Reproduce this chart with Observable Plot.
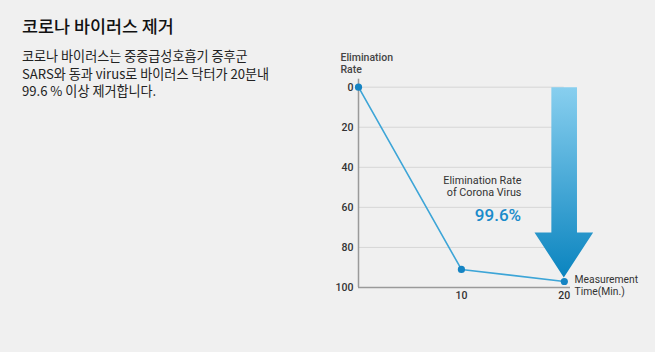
<!DOCTYPE html>
<html><head><meta charset="utf-8">
<script src="https://cdn.jsdelivr.net/npm/d3@7"></script>
<script src="https://cdn.jsdelivr.net/npm/@observablehq/plot@0.6"></script>
<style>
html,body{margin:0;padding:0;background:#f0f0f0;}
#wrap{position:relative;width:655px;height:352px;overflow:hidden;background:#f0f0f0;}
#title{position:absolute;left:22px;top:13px;font:500 17.4px "Noto Sans CJK KR";color:#111;margin:0;white-space:nowrap}
#desc{position:absolute;left:22px;top:47px;font:13.1px/17.5px "Noto Sans CJK KR";color:#222;margin:0;white-space:nowrap}
#chart{position:absolute;left:0;top:0}
</style></head>
<body><div id="wrap">
<div id="title">코로나 바이러스 제거</div>
<div id="desc">코로나 바이러스는 중증급성호흡기 증후군<br>SARS와 동과 virus로 바이러스 닥터가 20분내<br>99.6 % 이상 제거합니다.</div>
<div id="chart"></div>
</div>
<script>
const times = [0, 10, 20];
const rates = [0, 91, 97];
const yTicks = [0, 20, 40, 60, 80, 100];
const xTicks = [10, 20];
const yAxisTitle = "Elimination\nRate";
const xAxisTitle = "Measurement\nTime(Min.)";
const noteTitle = "Elimination Rate\nof Corona Virus";
const noteValue = "99.6%";
const arrowX = [18.74, 21.23, 21.23, 22.8, 19.95, 17.1, 18.74, 18.74];
const arrowY = [0, 0, 72.5, 72.5, 95, 72.5, 72.5, 0];

const pts = times.map((t, i) => ({t, r: rates[i]}));
const arrow = arrowX.map((x, i) => ({x, y: arrowY[i]}));
const font = "Roboto";

const chart = Plot.plot({
  width: 655, height: 352,
  marginLeft: 358, marginRight: 85, marginTop: 86.7, marginBottom: 65,
  x: {domain: [0, 20.6]},
  y: {domain: [0, 100], reverse: true},
  style: {background: "transparent", fontFamily: font, overflow: "visible"},
  marks: [
    Plot.ruleY(yTicks.slice(0, 5), {x1: 0, x2: 20, stroke: "#d6d6d6", strokeWidth: 1}),
    Plot.ruleX([0], {y1: -4, y2: 100, stroke: "#9a9a9a", strokeWidth: 1.5}),
    Plot.ruleY([100], {x1: 0, x2: 20.6, stroke: "#9a9a9a", strokeWidth: 1.5}),
    Plot.axisY(yTicks, {tickSize: 0, tickPadding: 5, fontSize: 10.5, fontWeight: 500, fill: "#333", label: null}),
    Plot.axisX(xTicks, {tickSize: 0, tickPadding: 4, fontSize: 10.5, fontWeight: 500, fill: "#333", label: null}),
    Plot.line(arrow, {x: "x", y: "y", fill: "url(#arrowGrad)", stroke: "none", curve: "linear"}),
    Plot.line(pts, {x: "t", y: "r", stroke: "#3da5d7", strokeWidth: 1.6}),
    Plot.dot(pts, {x: "t", y: "r", r: 3.6, fill: "#1584c3", stroke: "none"}),
    Plot.text([yAxisTitle], {x: -1.75, y: -12.2, text: d => d, textAnchor: "start", lineAnchor: "middle", lineHeight: 1.15, fontSize: 10.5, fontWeight: 500, fill: "#444"}),
    Plot.text([xAxisTitle], {x: 21.0, y: 98.9, text: d => d, textAnchor: "start", lineAnchor: "middle", lineHeight: 1.2, fontSize: 10.3, fill: "#333"}),
    Plot.text([noteTitle], {x: 15.83, y: 49.2, text: d => d, textAnchor: "end", lineAnchor: "middle", lineHeight: 1.15, fontSize: 10.8, fill: "#333"}),
    Plot.text([noteValue], {x: 15.8, y: 64, text: d => d, textAnchor: "end", lineAnchor: "middle", fontSize: 17, fontWeight: 500, fill: "#1a8bcb"})
  ]
});
const ns = "http://www.w3.org/2000/svg";
const defs = document.createElementNS(ns, "defs");
const grad = document.createElementNS(ns, "linearGradient");
grad.setAttribute("id", "arrowGrad");
grad.setAttribute("x1", "0"); grad.setAttribute("y1", "0");
grad.setAttribute("x2", "0"); grad.setAttribute("y2", "1");
[["0", "#88cfef"], ["1", "#0a84bf"]].forEach(([o, c]) => {
  const s = document.createElementNS(ns, "stop");
  s.setAttribute("offset", o); s.setAttribute("stop-color", c);
  grad.appendChild(s);
});
defs.appendChild(grad);
chart.insertBefore(defs, chart.firstChild);
document.getElementById("chart").appendChild(chart);
</script>
</body></html>
